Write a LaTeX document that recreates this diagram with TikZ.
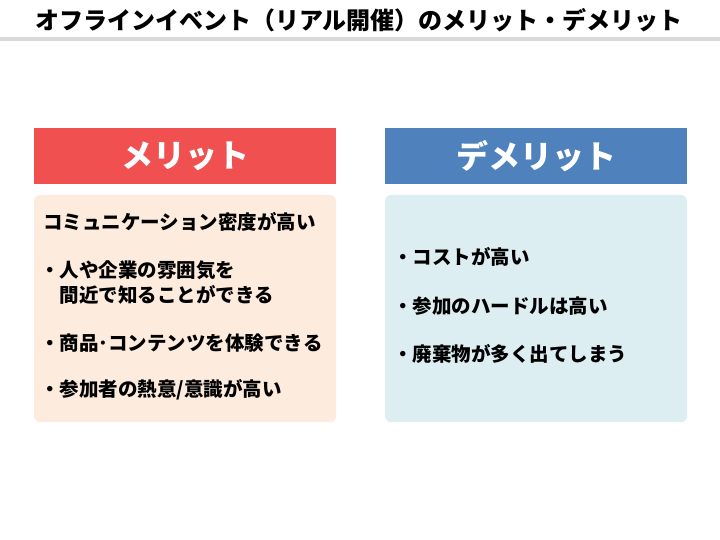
\documentclass[tikz,border=0pt]{standalone}
\usepackage{fontspec}
\newfontfamily\cjk{Noto Sans CJK JP}
\definecolor{redh}{HTML}{F05050}
\definecolor{blueh}{HTML}{4F81BD}
\definecolor{redb}{HTML}{FDEBDD}
\definecolor{blueb}{HTML}{DDEEF3}
\definecolor{rule}{HTML}{D9D9D9}
\tikzset{
 hdr/.style={minimum width=302pt,minimum height=56pt,inner sep=0pt,text=white,font=\cjk\bfseries\fontsize{32}{36}\selectfont},
 bodybox/.style={rounded corners=6pt,minimum width=302pt,minimum height=227pt,inner sep=0pt},
 txt/.style={anchor=west,inner sep=0pt,font=\cjk\bfseries\fontsize{19.5}{25}\selectfont,align=left}
}
\begin{document}
\begin{tikzpicture}[x=1pt,y=-1pt]
\useasboundingbox (0,0) rectangle (720,540);
\fill[white] (0,0) rectangle (720,540);
\node[font=\cjk\bfseries\fontsize{24}{28}\selectfont] (title) at (359,20) {オフラインイベント（リアル開催）のメリット・デメリット};
\fill[rule] (0,37) rectangle (720,41);
\node[hdr,fill=redh] (lh) at (185,156) {メリット};
\node[hdr,fill=blueh] (rh) at (536,156) {デメリット};
\node[bodybox,fill=redb] (lb) at (185,308.5) {};
\node[bodybox,fill=blueb] (rb) at (536,308.5) {};
\node[txt] (l1) at (43,222) {コミュニケーション密度が高い};
\node[txt] (l2) at (40,283) {・人や企業の雰囲気を\\\hspace{1em}間近で知ることができる};
\node[txt] (l3) at (40,343) {・商品･コンテンツを体験できる};
\node[txt] (l4) at (40,390) {・参加者の熱意/意識が高い};
\node[txt] (r1) at (393,257) {・コストが高い};
\node[txt] (r2) at (393,306) {・参加のハードルは高い};
\node[txt] (r3) at (393,354) {・廃棄物が多く出てしまう};
\end{tikzpicture}
\end{document}
